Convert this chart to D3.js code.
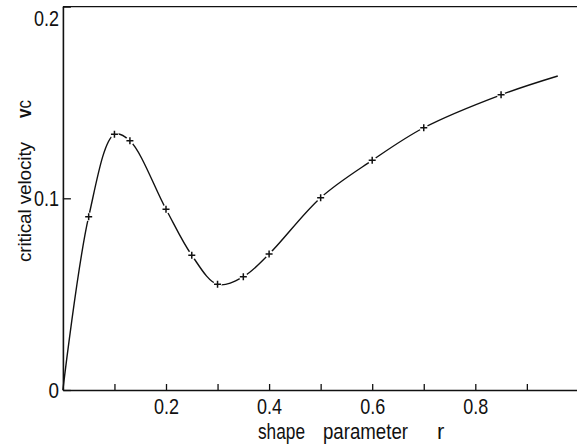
<!DOCTYPE html>
<html>
<head>
<meta charset="utf-8">
<script src="https://cdn.jsdelivr.net/npm/d3@7/dist/d3.min.js"></script>
<style>
  html, body { margin: 0; padding: 0; background: #fff; }
  svg { display: block; }
  text { font-family: "Liberation Sans", Arial, sans-serif; fill: #111; }
</style>
</head>
<body>
<svg id="chart" width="577" height="444"></svg>
<script>
// Computed critical velocities (marked points)
const shapeR = [0.05, 0.10, 0.13, 0.20, 0.25, 0.30, 0.35, 0.40, 0.50, 0.60, 0.70, 0.85];
const criticalV = [0.0904, 0.1334, 0.1300, 0.0943, 0.0703, 0.0551, 0.0591, 0.0709, 0.1003, 0.1198, 0.1368, 0.1540];
// Ends of the fitted curve
const curveStartR = 0, curveStartV = 0;
const curveEndR = 0.96, curveEndV = 0.1638;

const xTicks = [0.1, 0.2, 0.3, 0.4, 0.5, 0.6, 0.7, 0.8, 0.9];
const xTickLabels = { 0.2: "0.2", 0.4: "0.4", 0.6: "0.6", 0.8: "0.8" };
const yTicks = [0, 0.1, 0.2];
const yTickLabels = { 0: "0", 0.1: "0.1", 0.2: "0.2" };

const svg = d3.select("#chart");
const x = d3.scaleLinear().domain([0, 1]).range([62.9, 578.4]);
const y = d3.scaleLinear().domain([0, 0.2]).range([390, 6.6]);

// Frame: top border
svg.append("line")
  .attr("x1", x(0)).attr("x2", 577)
  .attr("y1", y(0.2)).attr("y2", y(0.2))
  .attr("stroke", "#111").attr("stroke-width", 1.4);

// narrow, condensed look for all lettering
function condense(sel, perChar) {
  sel.attr("lengthAdjust", "spacingAndGlyphs")
     .attr("textLength", function () { return this.textContent.length ? perChar(this.textContent) : null; });
}
const numWidth = s => s.split("").reduce((w, c) => w + (c === "." ? 4 : 10.5), 0);

// x axis
const xAxis = svg.append("g")
  .attr("transform", `translate(0,${y(0)})`)
  .call(d3.axisBottom(x).tickValues(xTicks)
    .tickSizeInner(-6).tickSizeOuter(0).tickPadding(8)
    .tickFormat(d => xTickLabels[d] || ""));
xAxis.select(".domain").attr("stroke", "#111").attr("stroke-width", 1.6);
xAxis.selectAll(".tick line").attr("stroke", "#111").attr("stroke-width", 1.3);
xAxis.selectAll(".tick text").attr("font-size", 22).attr("fill", "#111")
  .attr("font-family", "Liberation Sans, sans-serif").call(condense, numWidth);

// y axis
const yAxis = svg.append("g")
  .attr("transform", `translate(${x(0)},0)`)
  .call(d3.axisLeft(y).tickValues(yTicks)
    .tickSizeInner(-8).tickSizeOuter(0).tickPadding(4)
    .tickFormat(d => yTickLabels[d]));
yAxis.select(".domain").attr("stroke", "#111").attr("stroke-width", 1.6);
yAxis.selectAll(".tick line").attr("stroke", "#111").attr("stroke-width", 1.3);
yAxis.selectAll(".tick text").attr("font-size", 22).attr("fill", "#111")
  .attr("font-family", "Liberation Sans, sans-serif")
  .attr("dy", d => d === 0.2 ? "0.85em" : "0.32em")
  .call(condense, numWidth);

// Smooth curve through the computed points
const curvePts = [[curveStartR, curveStartV]]
  .concat(shapeR.map((r, i) => [r, criticalV[i]]))
  .concat([[curveEndR, curveEndV]]);
svg.append("path")
  .datum(curvePts)
  .attr("fill", "none")
  .attr("stroke", "#111")
  .attr("stroke-width", 1.4)
  .attr("d", d3.line().x(d => x(d[0])).y(d => y(d[1])).curve(d3.curveCatmullRom.alpha(0.5)));

// Markers: small gap in the curve, then a plus sign
const marks = svg.append("g").selectAll("g")
  .data(shapeR.map((r, i) => [r, criticalV[i]]))
  .join("g")
  .attr("transform", d => `translate(${x(d[0])},${y(d[1])})`);
marks.append("circle").attr("r", 4.2).attr("fill", "#fff");
marks.append("path")
  .attr("d", "M-3.5,0H3.5M0,-3.5V3.5")
  .attr("stroke", "#111").attr("stroke-width", 1.5);

// Axis titles
const xt = svg.append("g").attr("font-size", 22);
xt.append("text").attr("x", 258).attr("y", 439)
  .attr("lengthAdjust", "spacingAndGlyphs").attr("textLength", 47).text("shape");
xt.append("text").attr("x", 323).attr("y", 439)
  .attr("lengthAdjust", "spacingAndGlyphs").attr("textLength", 85).text("parameter");
xt.append("text").attr("x", 437).attr("y", 439).text("r");

const yt = svg.append("g").attr("transform", "translate(31,0) rotate(-90)").attr("font-size", 19);
yt.append("text").attr("x", -262).attr("y", 0)
  .attr("lengthAdjust", "spacing").attr("textLength", 120).text("critical velocity");
yt.append("text").attr("x", -118).attr("y", 0).attr("font-size", 20).attr("font-weight", "bold")
  .attr("lengthAdjust", "spacingAndGlyphs").attr("textLength", 18)
  .text("v")
  .append("tspan").attr("font-weight", "normal").text("c");
</script>
</body>
</html>
